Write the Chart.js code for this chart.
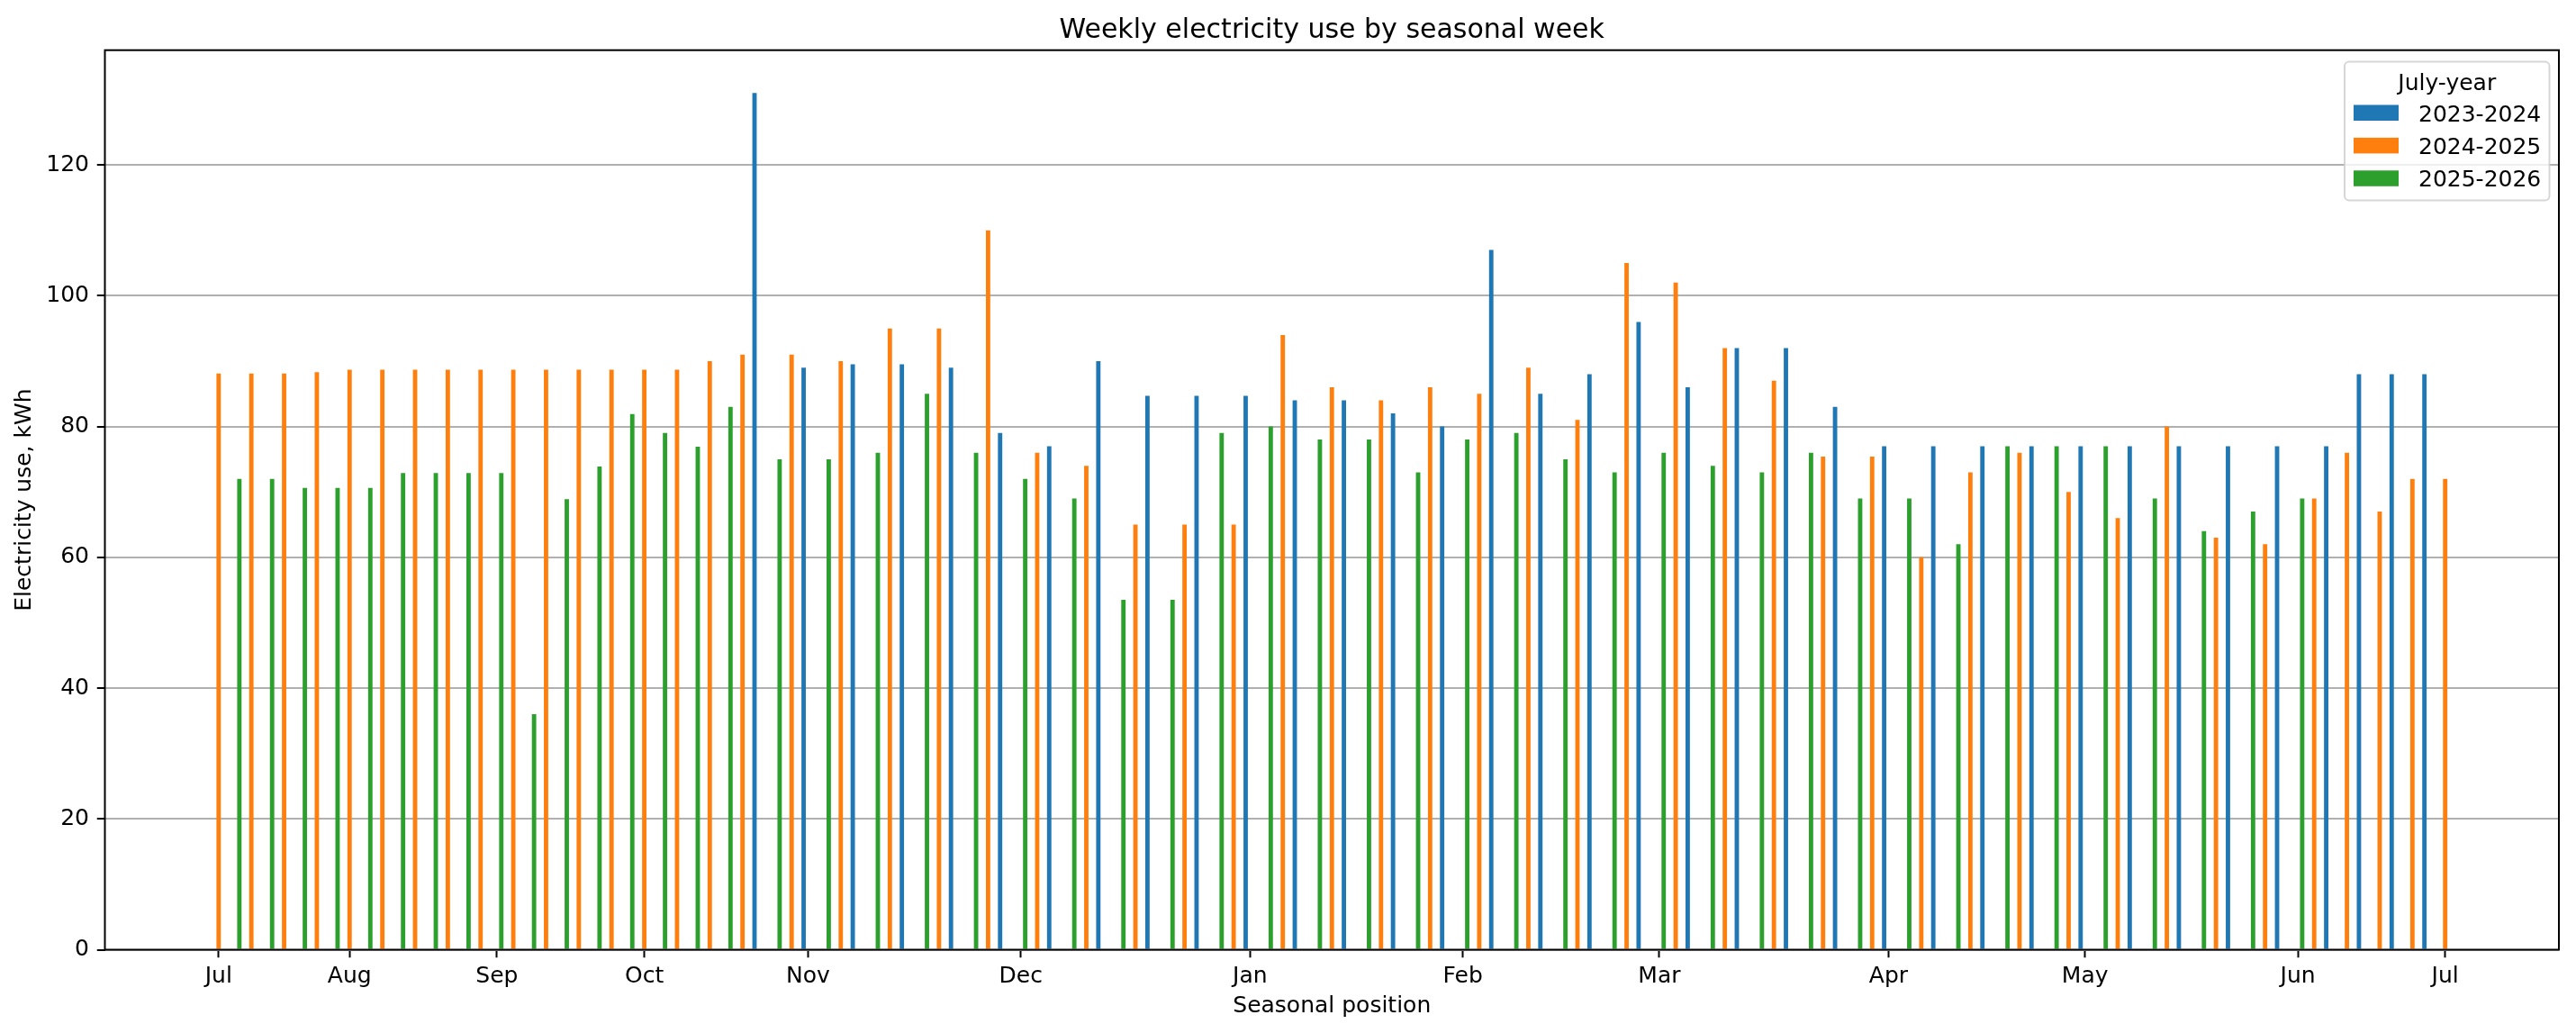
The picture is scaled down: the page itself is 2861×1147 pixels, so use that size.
<!DOCTYPE html>
<html>
<head>
<meta charset="utf-8">
<title>Weekly electricity use by seasonal week</title>
<script src="https://cdn.jsdelivr.net/npm/chart.js@4.4.1/dist/chart.umd.min.js"></script>
<style>
  html, body { margin: 0; padding: 0; background: #fff; }
  canvas { display: block; }
</style>
</head>
<body>
<canvas id="usageChart" width="2861" height="1147"></canvas>
<script>
// Month ticks: first seasonal position of each month
const monthStarts = [0, 8, 17, 26, 36, 49, 63, 76, 88, 102, 114, 127, 136];
const monthLabels = ['Jul', 'Aug', 'Sep', 'Oct', 'Nov', 'Dec', 'Jan', 'Feb', 'Mar', 'Apr', 'May', 'Jun', 'Jul'];
const yTicks = [0, 20, 40, 60, 80, 100, 120];

// 2023-2024 (blue)
const pos2324 = [33, 36, 39, 42, 45, 48, 51, 54, 57, 60, 63, 66, 69, 72, 75, 78, 81, 84,
    87, 90, 93, 96, 99, 102, 105, 108, 111, 114, 117, 120, 123, 126, 129, 131, 133, 135];
const use2324 = [131, 89, 89.5, 89.5, 89, 79, 77, 90, 84.7, 84.7, 84.7, 84, 84, 82, 80, 107, 85, 88,
    96, 86, 92, 92, 83, 77, 77, 77, 77, 77, 77, 77, 77, 77, 77, 88, 88, 88];

// 2024-2025 (orange)
const pos2425 = [0, 2, 4, 6, 8, 10, 12, 14, 16, 18, 20, 22, 24, 26, 28, 30, 32,
    35, 38, 41, 44, 47, 50, 53, 56, 59, 62, 65, 68, 71, 74, 77, 80, 83, 86, 89, 92, 95, 98, 101,
    104, 107, 110, 113, 116, 119, 122, 125, 128, 130, 132, 134, 136];
const use2425 = [88.1, 88.1, 88.1, 88.3, 88.7, 88.7, 88.7, 88.7, 88.7, 88.7, 88.7, 88.7, 88.7, 88.7, 88.7, 90, 91,
    91, 90, 95, 95, 110, 76, 74, 65, 65, 65, 94, 86, 84, 86, 85, 89, 81, 105, 102, 92, 87, 75.4, 75.4,
    60, 73, 76, 70, 66, 80, 63, 62, 69, 76, 67, 72, 72];

// 2025-2026 (green)
const pos2526 = [1, 3, 5, 7, 9, 11, 13, 15, 17, 19, 21, 23, 25, 27, 29, 31,
    34, 37, 40, 43, 46, 49, 52, 55, 58, 61, 64, 67, 70, 73, 76, 79, 82, 85, 88, 91, 94, 97, 100,
    103, 106, 109, 112, 115, 118, 121, 124, 127];
const use2526 = [72, 72, 70.6, 70.6, 70.6, 72.9, 72.9, 72.9, 72.9, 36, 68.9, 73.9, 81.9, 79, 76.9, 83,
    75, 75, 76, 85, 76, 72, 69, 53.5, 53.5, 79, 80, 78, 78, 73, 78, 79, 75, 73, 76, 74, 73, 76, 69,
    69, 62, 77, 77, 77, 69, 64, 67, 69];

const FONT = 'DejaVu Sans';
const BAR_W = 0.8 / 3;

function toPoints(xs, ys) {
    return xs.map((x, i) => ({ x: x, y: ys[i] }));
}

// x limits like matplotlib: bar edges plus 5% margin
const allPos = pos2324.concat(pos2425, pos2526);
const xLo = Math.min(...allPos) - BAR_W / 2;
const xHi = Math.max(...allPos) + BAR_W / 2;
const xPad = (xHi - xLo) * 0.05;
const yMax = Math.max(...use2324, ...use2425, ...use2526) * 1.05;

const series = [
    { label: '2023-2024', color: '#1f77b4', pos: pos2324, use: use2324 },
    { label: '2024-2025', color: '#ff7f0e', pos: pos2425, use: use2425 },
    { label: '2025-2026', color: '#2ca02c', pos: pos2526, use: use2526 }
];

// Frame, title, axis labels and legend drawn like matplotlib
const decorations = {
    id: 'decorations',
    afterDraw(chart) {
        const c = chart.ctx;
        const a = chart.chartArea;
        c.save();

        // spines
        c.strokeStyle = '#000';
        c.lineWidth = 2;
        c.strokeRect(a.left, a.top, a.right - a.left, a.bottom - a.top);

        // title
        const cx = (a.left + a.right) / 2;
        c.fillStyle = '#000';
        c.textAlign = 'center';
        c.textBaseline = 'alphabetic';
        c.font = '30px "' + FONT + '"';
        c.fillText('Weekly electricity use by seasonal week', cx, 41.5);

        // axis labels
        c.font = '25px "' + FONT + '"';
        c.fillText('Seasonal position', cx, 1124);
        c.save();
        c.translate(34, (a.top + a.bottom) / 2);
        c.rotate(-Math.PI / 2);
        c.fillText('Electricity use, kWh', 0, 0);
        c.restore();

        // legend box
        const lx = 2604, ly = 68.5, lw = 227.5, lh = 154, r = 5;
        c.beginPath();
        c.roundRect(lx, ly, lw, lh, r);
        c.fillStyle = 'rgba(255,255,255,0.8)';
        c.fill();
        c.strokeStyle = 'rgba(204,204,204,0.8)';
        c.lineWidth = 2;
        c.stroke();

        c.fillStyle = '#000';
        c.textAlign = 'center';
        c.fillText('July-year', lx + lw / 2, 100);

        c.textAlign = 'left';
        series.forEach((s, i) => {
            const top = 116.5 + i * 36.4;
            c.fillStyle = s.color;
            c.fillRect(2614, top, 50, 17.5);
            c.fillStyle = '#000';
            c.fillText(s.label, 2686, top + 18);
        });

        c.restore();
    }
};

new Chart(document.getElementById('usageChart'), {
    type: 'bar',
    data: {
        datasets: series.map(s => ({
            label: s.label,
            data: toPoints(s.pos, s.use),
            backgroundColor: s.color,
            borderWidth: 0,
            categoryPercentage: 0.8,
            barPercentage: 1.0
        }))
    },
    options: {
        responsive: false,
        animation: false,
        devicePixelRatio: 1,
        layout: {
            padding: { top: 55.7, right: 19, left: 0, bottom: 0 }
        },
        plugins: {
            legend: { display: false },
            title: { display: false },
            tooltip: { enabled: false }
        },
        scales: {
            x: {
                type: 'linear',
                bounds: 'data',
                min: xLo - xPad,
                max: xHi + xPad,
                offset: false,
                border: { display: false },
                grid: {
                    offset: false,
                    drawOnChartArea: false,
                    drawTicks: true,
                    tickLength: 8.75,
                    tickColor: '#000',
                    tickWidth: 2
                },
                ticks: {
                    autoSkip: false,
                    maxRotation: 0,
                    padding: 6,
                    color: '#000',
                    font: { family: FONT, size: 25 },
                    callback: (value, index) => monthLabels[index]
                },
                afterBuildTicks: scale => {
                    scale.ticks = monthStarts.map(v => ({ value: v }));
                },
                afterFit: scale => {
                    scale.height = 92.5;
                }
            },
            y: {
                type: 'linear',
                bounds: 'data',
                min: 0,
                max: yMax,
                z: 1,
                border: { display: false },
                grid: {
                    color: '#b0b0b0',
                    lineWidth: 2,
                    drawTicks: true,
                    tickLength: 8.75,
                    tickColor: '#000',
                    tickWidth: 2
                },
                ticks: {
                    padding: 8.75,
                    color: '#000',
                    font: { family: FONT, size: 25 }
                },
                afterBuildTicks: scale => {
                    scale.ticks = yTicks.map(v => ({ value: v }));
                },
                afterFit: scale => {
                    scale.height = scale.height;
                    scale.width = 116.5;
                }
            }
        }
    },
    plugins: [decorations]
});
</script>
</body>
</html>
